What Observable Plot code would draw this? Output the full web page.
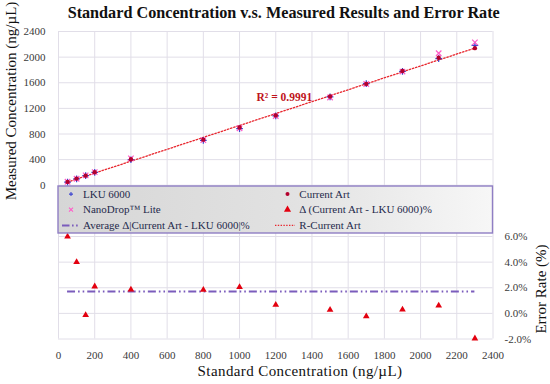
<!DOCTYPE html>
<html><head><meta charset="utf-8">
<script src="https://cdn.jsdelivr.net/npm/d3@7"></script>
<script src="https://cdn.jsdelivr.net/npm/@observablehq/plot@0.6"></script>
<style>
body{margin:0;background:#fff;}
#wrap{position:relative;width:550px;height:384px;overflow:hidden;font-family:"Liberation Serif",serif;}
#wrap svg{position:absolute;left:0;top:0;}
</style></head><body><div id="wrap"></div>
<script>
// ---- data ----
const standard   = [50, 100, 150, 200, 400, 800, 1000, 1200, 1500, 1700, 1900, 2100, 2300];
const lku6000    = [49, 100, 150, 200, 398, 699, 884, 1083, 1381, 1586, 1779, 1978, 2183];
const nanoDrop   = [55, 102, 155, 205, 420, 705, 890, 1080, 1370, 1580, 1775, 2060, 2230];
const currentArt = [52, 104, 150, 204, 405, 712, 902, 1090, 1385, 1582, 1784, 1990, 2140];
const errorRate  = [6.0, 4.0, -0.13, 2.1, 1.86, 1.84, 2.05, 0.66, 0.27, -0.23, 0.29, 0.6, -1.96];
const avgAbsError = 1.71;
const xTicks = [0,200,400,600,800,1000,1200,1400,1600,1800,2000,2200,2400];
const yTicks = [0,400,800,1200,1600,2000,2400];
const errTicks = [-2,0,2,4,6];
const r2Label = "R² = 0.9991";
const titleText = "Standard Concentration v.s. Measured Results and Error Rate";
const xLabel = "Standard Concentration (ng/µL)";
const yLabel = "Measured Concentration (ng/µL)";
const y2Label = "Error Rate (%)";
const legendItems = [
  ["LKU 6000","plus"],["Current Art","dot"],
  ["NanoDrop™ Lite","times"],["Δ (Current Art - LKU 6000)%","tri"],
  ["Average Δ|Current Art - LKU 6000|%","avg"],["R-Current Art","trend"]
];

const rows = standard.map((s,i)=>({s, lku:lku6000[i], nd:nanoDrop[i], ca:currentArt[i], err:errorRate[i]}));

const FONT = "'Liberation Serif', serif";
const W=550,H=384;
const common = {
  width:W, height:H, marginLeft:58, marginRight:57.5, marginTop:31, marginBottom:45.5,
  style:{fontFamily:FONT, background:"transparent", color:"#3a3a3a", overflow:"visible"}
};
const gridC = "#e1dee8";

const p1 = Plot.plot({...common,
  x:{domain:[0,2400]},
  y:{domain:[-2400,2400]},
  marks:[
    Plot.gridX(xTicks,{stroke:gridC, strokeOpacity:1}),
    Plot.gridY(d3.range(-2400,2401,400),{stroke:gridC, strokeOpacity:1}),
    Plot.axisX(xTicks,{tickSize:0, tickPadding:12.5, fontSize:11, label:null, tickFormat:d=>String(d)}),
    Plot.axisY(yTicks,{tickSize:0, tickPadding:13, fontSize:11, label:null, tickFormat:d=>String(d)}),
    Plot.linearRegressionY(rows,{x:"s", y:"ca", ci:0, stroke:"#e8262e", strokeWidth:1.3, strokeDasharray:"1.5,1.8"}),
    Plot.dot(rows,{x:"s", y:"lku", symbol:"plus", r:2.3, stroke:"#3c44d0", strokeWidth:1.2}),
    Plot.dot(rows,{x:"s", y:"nd", symbol:"times", r:2.6, stroke:"#ff5cc8", strokeWidth:1.2}),
    Plot.dot(rows,{x:"s", y:"ca", r:2.2, fill:"#b3002d", stroke:"none"}),
    Plot.text([r2Label],{frameAnchor:"top-left", text:d=>d, dx:198, dy:61, fontSize:11.5, fontWeight:"bold", fill:"#c0141c", textAnchor:"start"})
  ]
});

const p2 = Plot.plot({...common,
  x:{domain:[0,2400], axis:null},
  y:{domain:[-2,22], axis:null},
  marks:[
    Plot.axisY(errTicks,{anchor:"right", tickSize:0, tickPadding:11.5, fontSize:11, label:null, tickFormat:d=>d.toFixed(1)+"%"}),
    Plot.ruleY([avgAbsError],{x1:d3.min(standard), x2:d3.max(standard), stroke:"#7b5cbc", strokeWidth:2, strokeDasharray:"8,3,1.6,3,1.6,3"}),
    Plot.dot(rows,{x:"s", y:"err", symbol:"triangle2", r:3.2, fill:"#e3000f", stroke:"none"})
  ]
});

const wrap = document.getElementById("wrap");
wrap.appendChild(p1);
wrap.appendChild(p2);

// overlay: titles + legend
const svg = d3.select(wrap).append("svg").attr("width",W).attr("height",H).style("font-family",FONT);
svg.append("text").attr("x",283.7).attr("y",17.5).attr("text-anchor","middle")
  .attr("font-size",16.2).attr("font-weight","bold").attr("fill","#111").text(titleText);
svg.append("text").attr("x",300).attr("y",376).attr("text-anchor","middle")
  .attr("font-size",15).attr("letter-spacing",0.4).attr("fill","#111").text(xLabel);
svg.append("text").attr("transform","translate(15.5,101) rotate(-90)").attr("text-anchor","middle")
  .attr("font-size",15).attr("fill","#111").text(yLabel);
svg.append("text").attr("transform","translate(546,289) rotate(-90)").attr("text-anchor","middle")
  .attr("font-size",15).attr("fill","#111").text(y2Label);

const defs = svg.append("defs");
const g = defs.append("linearGradient").attr("id","lg").attr("x1","0").attr("x2","1").attr("y1","0").attr("y2","0");
g.append("stop").attr("offset","0").attr("stop-color","#d6d6d6");
g.append("stop").attr("offset","0.55").attr("stop-color","#e2e2e2");
g.append("stop").attr("offset","1").attr("stop-color","#f7f7f7");

const L = svg.append("g").attr("transform","translate(58,186)");
L.append("rect").attr("x",0).attr("y",0).attr("width",434.5).attr("height",47)
  .attr("fill","url(#lg)").attr("stroke","#8f7ec4").attr("stroke-width",1.4);
const colMarker=[13,229.5], colText=[25,241.3], rowBase=[11.7,27.3,43];
legendItems.forEach(([label,kind],i)=>{
  const c=i%2, r=Math.floor(i/2);
  const mx=colMarker[c], my=rowBase[r]-3.6;
  if(kind==="plus"){
    L.append("path").attr("d",`M${mx-2},${my}H${mx+2}M${mx},${my-2}V${my+2}`).attr("stroke","#3c44d0").attr("stroke-width",1.1);
  } else if(kind==="times"){
    L.append("path").attr("d",`M${mx-2},${my-2}L${mx+2},${my+2}M${mx-2},${my+2}L${mx+2},${my-2}`).attr("stroke","#ff5cc8").attr("stroke-width",1.1);
  } else if(kind==="dot"){
    L.append("circle").attr("cx",mx).attr("cy",my).attr("r",2).attr("fill","#b3002d");
  } else if(kind==="tri"){
    L.append("path").attr("d",d3.symbol(d3.symbolTriangle,22)()).attr("transform",`translate(${mx},${my})`).attr("fill","#e3000f");
  } else if(kind==="avg"){
    L.append("line").attr("x1",4).attr("x2",22).attr("y1",my).attr("y2",my).attr("stroke","#7b5cbc").attr("stroke-width",2).attr("stroke-dasharray","7.5,2.5,1.6,2.5,1.6,3");
  } else if(kind==="trend"){
    L.append("line").attr("x1",217).attr("x2",237).attr("y1",my).attr("y2",my).attr("stroke","#e8262e").attr("stroke-width",1.2).attr("stroke-dasharray","1.4,1.4");
  }
  L.append("text").attr("x",colText[c]).attr("y",rowBase[r]).attr("font-size",11).attr("fill","#1f2a4c").text(label);
});
</script></body></html>
